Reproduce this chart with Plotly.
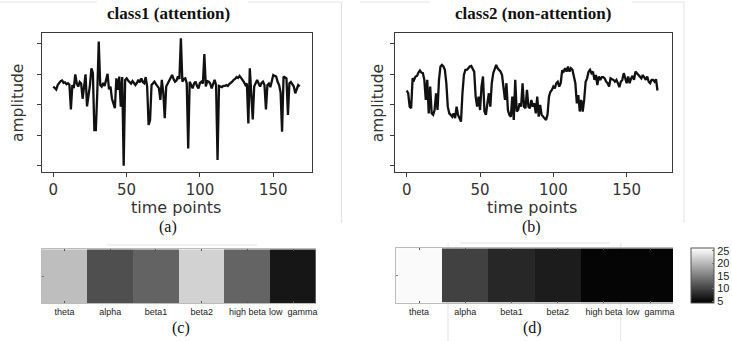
import plotly.graph_objects as go

W, H = 732, 341

# ---------------- data ----------------
class1_amplitude = [
    2.60, 2.55, 2.50, 2.65, 2.72, 2.78, 2.80, 2.72, 2.74, 2.68,
    2.71, 2.66, 1.85, 2.65, 2.55, 3.00, 2.70, 2.60, 2.75, 2.70,
    2.20, 2.55, 3.00, 1.95, 2.30, 2.65, 3.20, 3.05, 1.17, 1.17,
    2.40, 4.08, 2.65, 2.60, 2.72, 2.62, 2.82, 3.02, 2.51, 2.60,
    2.20, 2.05, 1.89, 2.87, 2.49, 2.93, 1.94, 2.91, 0.00, 2.82,
    2.87, 2.80, 2.76, 2.70, 2.78, 2.71, 2.65, 2.72, 2.82, 2.74,
    2.87, 2.75, 2.71, 2.91, 2.60, 1.34, 1.50, 2.65, 2.70, 2.76,
    2.68, 2.60, 2.55, 2.16, 2.82, 2.40, 1.56, 2.60, 2.70, 2.82,
    2.90, 2.98, 2.85, 2.76, 2.80, 2.93, 2.85, 4.19, 2.76, 2.85,
    2.87, 2.70, 0.57, 2.76, 2.65, 2.54, 2.70, 2.76, 2.62, 2.54,
    2.72, 2.76, 2.70, 3.67, 2.60, 2.78, 2.76, 2.70, 2.54, 2.70,
    2.82, 2.65, 0.19, 2.62, 2.60, 2.58, 2.62, 2.62, 2.65, 2.62,
    2.68, 2.71, 2.76, 2.82, 2.85, 2.91, 2.88, 2.95, 2.90, 2.82,
    2.75, 2.65, 2.70, 1.39, 3.20, 2.40, 1.52, 2.60, 2.72, 2.82,
    2.70, 2.60, 2.72, 2.76, 2.65, 1.85, 2.65, 2.70, 2.58, 2.80,
    2.98, 2.95, 2.93, 2.75, 2.65, 2.40, 1.12, 2.93, 2.90, 2.87,
    1.67, 2.71, 2.75, 2.65, 2.60, 2.38, 2.55, 2.65, 2.60,
]
class2_amplitude = [
    2.47, 2.38, 1.94, 1.89, 2.87, 2.82, 2.93, 2.95, 3.06, 3.13,
    3.06, 3.04, 2.82, 2.16, 2.82, 1.72, 2.60, 1.72, 1.67, 1.83,
    2.38, 1.83, 2.82, 3.26, 3.31, 3.26, 3.15, 2.71, 1.94, 1.72,
    1.67, 1.61, 1.72, 1.56, 1.94, 1.67, 1.56, 1.45, 2.38, 2.98,
    3.15, 3.15, 3.20, 3.26, 3.28, 3.20, 3.09, 2.27, 1.94, 2.27,
    1.83, 2.60, 2.93, 1.78, 1.67, 2.05, 2.38, 1.94, 2.71, 3.04,
    3.15, 3.31, 3.20, 3.15, 3.09, 2.98, 2.49, 2.16, 2.71, 1.83,
    1.67, 1.61, 2.27, 1.50, 2.82, 1.78, 1.83, 2.05, 1.94, 2.71,
    1.94, 1.89, 2.49, 1.94, 1.89, 2.16, 1.94, 2.05, 1.72, 2.27,
    1.61, 2.00, 1.67, 1.61, 1.56, 1.50, 1.67, 2.27, 2.43, 2.49,
    2.60, 2.54, 2.71, 2.76, 2.60, 2.71, 3.13, 3.09, 3.20, 3.09,
    3.26, 3.09, 3.20, 3.15, 2.93, 2.71, 2.05, 2.32, 1.78, 2.16,
    1.78, 2.16, 2.76, 2.87, 3.09, 3.15, 3.04, 3.09, 2.82, 2.98,
    2.65, 2.93, 2.82, 2.91, 2.91, 2.87, 2.76, 2.71, 2.60, 2.87,
    2.84, 2.82, 2.76, 2.82, 2.71, 2.58, 2.76, 2.82, 3.04, 2.87,
    2.71, 2.93, 2.71, 2.87, 2.95, 2.82, 3.09, 3.04, 2.98, 2.93,
    2.87, 2.98, 2.91, 2.82, 2.93, 2.76, 2.71, 2.82, 2.82, 2.76,
    2.84, 2.47,
]
time_ticks = [0, 50, 100, 150]
amp_ticks = [0, 1, 2, 3, 4]

bands = ["theta", "alpha", "beta1", "beta2", "high beta", "low  gamma"]
class1_power = [20.4, 10.9, 12.6, 22.1, 12.7, 6.0]
class2_power = [25.5, 9.7, 7.4, 6.5, 4.5, 4.5]
cbar_ticks = [5, 10, 15, 20, 25]

# ---------------- helpers ----------------
def xd(a, b):
    return [a / W, b / W]

def yd(top, bottom):
    return [1 - bottom / H, 1 - top / H]

FRAME = "#3a3a3a"
TXT = "#333333"
SANS = "DejaVu Sans"

fig = go.Figure()

fig.add_trace(go.Scatter(x=list(range(len(class1_amplitude))), y=class1_amplitude,
                         mode="lines", line=dict(color="#111111", width=2.3),
                         xaxis="x", yaxis="y", showlegend=False))
fig.add_trace(go.Scatter(x=list(range(len(class2_amplitude))), y=class2_amplitude,
                         mode="lines", line=dict(color="#111111", width=2.3),
                         xaxis="x2", yaxis="y2", showlegend=False))

gray = [[0, "#000000"], [1, "#ffffff"]]
ZMIN, ZMAX = 4.1, 25.95
fig.add_trace(go.Heatmap(z=[class1_power], x=list(range(len(bands))), y=[0],
                         colorscale=gray, zmin=ZMIN, zmax=ZMAX, showscale=False,
                         xaxis="x3", yaxis="y3", hoverinfo="skip"))
fig.add_trace(go.Heatmap(z=[class2_power], x=list(range(len(bands))), y=[0],
                         colorscale=gray, zmin=ZMIN, zmax=ZMAX, showscale=True,
                         xaxis="x4", yaxis="y4", hoverinfo="skip",
                         colorbar=dict(x=690.7 / W, xanchor="left", xpad=0,
                                       y=1 - 275.8 / H, yanchor="middle", ypad=0,
                                       thicknessmode="pixels", thickness=22.6,
                                       lenmode="pixels", len=55,
                                       outlinewidth=1, outlinecolor="#555555",
                                       tickvals=cbar_ticks, ticks="inside", ticklen=2,
                                       tickcolor="#777777",
                                       tickfont=dict(family="Liberation Sans", size=11, color="#222222"))))

line_axis = dict(showline=True, mirror=True, linecolor=FRAME, linewidth=1.2,
                 ticks="outside", ticklen=4, tickcolor=FRAME, showgrid=False,
                 zeroline=False, tickfont=dict(family=SANS, size=15, color=TXT))

fig.update_layout(
    width=W, height=H, margin=dict(l=0, r=0, t=0, b=0),
    paper_bgcolor="white", plot_bgcolor="white",
    xaxis=dict(domain=xd(41.7, 311.7), range=[-7.9, 176.2], tickvals=time_ticks,
               anchor="y", **line_axis),
    yaxis=dict(domain=yd(32.7, 172.3), range=[-0.217, 4.37], tickvals=amp_ticks,
               showticklabels=False, anchor="x", **line_axis),
    xaxis2=dict(domain=xd(395, 671.7), range=[-8.0, 180.7], tickvals=time_ticks,
                anchor="y2", **line_axis),
    yaxis2=dict(domain=yd(32.7, 172.3), range=[-0.217, 4.37], tickvals=amp_ticks,
                showticklabels=False, anchor="x2", **line_axis),
)

heat_x = dict(range=[-0.5, len(bands) - 0.5], tickvals=list(range(len(bands))),
              ticktext=bands, tickangle=0, ticks="inside", ticklen=2, tickcolor="#555555",
              mirror="ticks", showline=True, linecolor="#bbbbbb", linewidth=1,
              showgrid=False, zeroline=False,
              tickfont=dict(family="Liberation Sans", size=9, color="#222222"))
heat_y = dict(range=[-0.5, 0.5], tickvals=[-0.5, 0, 0.5], ticks="inside", ticklen=2,
              tickcolor="#777777", showticklabels=False, showline=True,
              linecolor="#bbbbbb", linewidth=1, showgrid=False, zeroline=False)

fig.update_layout(
    xaxis3=dict(domain=xd(41.7, 316), anchor="y3", **heat_x),
    yaxis3=dict(domain=yd(249.3, 303.3), anchor="x3", **heat_y),
    xaxis4=dict(domain=xd(396, 673.3), anchor="y4", **heat_x),
    yaxis4=dict(domain=yd(248.3, 302.7), anchor="x4", **heat_y),
)

def ann(text, x, y, size, family, color=TXT, bold=False, angle=0):
    if bold:
        text = "<b>" + text + "</b>"
    fig.add_annotation(text=text, x=x / W, y=1 - y / H, xref="paper", yref="paper",
                       xanchor="center", yanchor="middle", showarrow=False,
                       textangle=angle, font=dict(size=size, family=family, color=color))

SERIF = "Liberation Serif"
ann("class1 (attention)", 168, 14, 17, SERIF, "#111111", bold=True)
ann("class2 (non-attention)", 532.7, 14, 17, SERIF, "#111111", bold=True)
ann("time points", 176, 207.5, 16, SANS)
ann("time points", 531.7, 207.5, 16, SANS)
ann("amplitude", 18, 103, 15.5, SANS, angle=-90)
ann("amplitude", 378.3, 103, 15.5, SANS, angle=-90)
ann("(a)", 168, 227, 16, SERIF, "#111111")
ann("(b)", 531, 227, 16, SERIF, "#111111")
ann("(c)", 181, 328, 16, SERIF, "#111111")
ann("(d)", 532, 328, 16, SERIF, "#111111")

# faint scan borders
faint = dict(color="#e4e4e4", width=1)
for x0, y0, x1, y1 in [(341.5, 2, 341.5, 223), (684, 2, 684, 223),
                       (0, 2, 97, 2), (248, 2, 341, 2), (360, 2, 430, 2), (632, 2, 684, 2),
                       (448, 243, 448, 341), (620.7, 243, 620.7, 341),
                       (107, 245, 257, 245), (460, 243, 610, 243)]:
    fig.add_shape(type="line", xref="paper", yref="paper",
                  x0=x0 / W, x1=x1 / W, y0=1 - y0 / H, y1=1 - y1 / H, line=faint, layer="below")

fig.write_html("out.html")
